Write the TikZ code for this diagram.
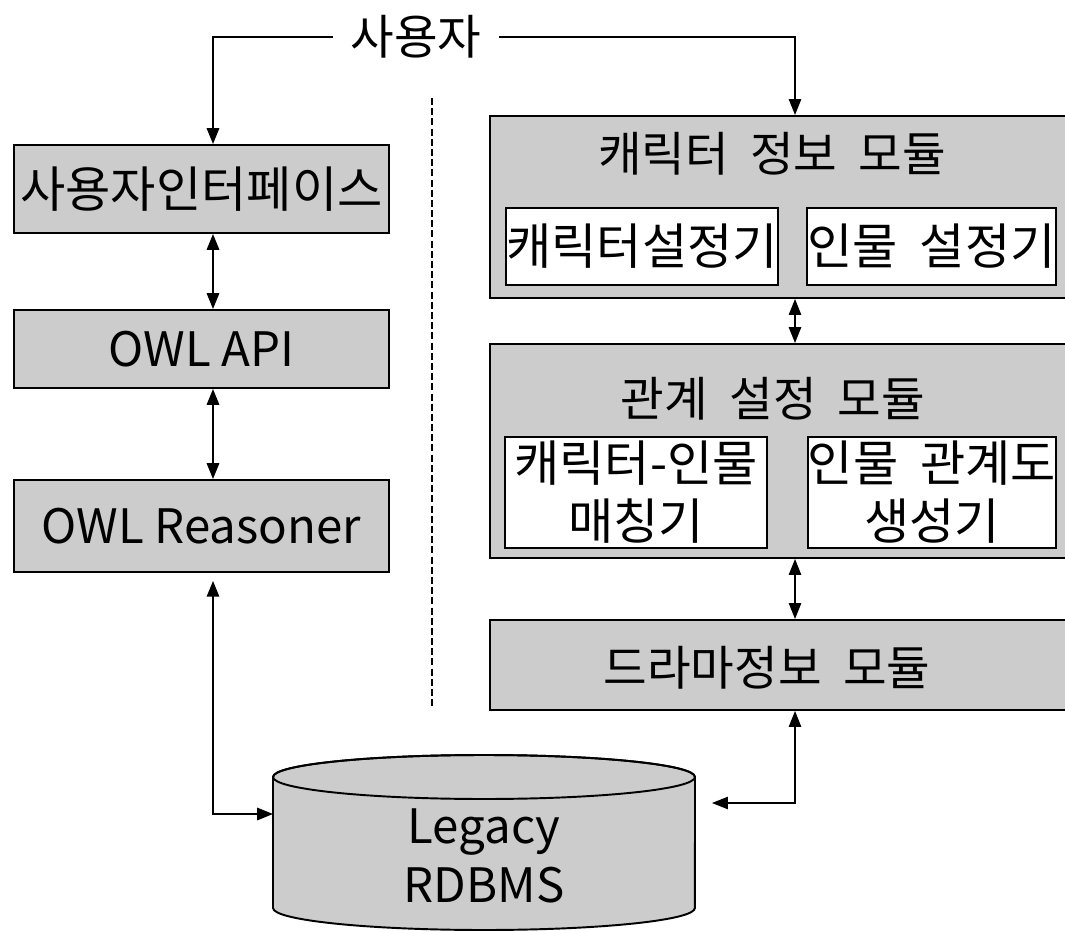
\documentclass[tikz,border=0pt]{standalone}
\usepackage{fontspec}
\setmainfont{Noto Sans CJK KR}[WordSpace=2]
\newfontfamily\latinfont{Noto Sans CJK KR}
\usetikzlibrary{arrows.meta}
\definecolor{boxgray}{gray}{0.8}
\begin{document}
\begin{tikzpicture}[x=0.02cm,y=-0.02cm,
  >={Triangle[length=9pt,width=7pt]},
  kfont/.style={font=\fontsize{27}{33}\selectfont},
  kbig/.style={font=\fontsize{28}{33}\selectfont},
  lfont/.style={font=\latinfont\fontsize{27}{33.5}\selectfont},
  gbox/.style={draw=black, line width=1.1pt, fill=boxgray, inner sep=0pt},
  wbox/.style={draw=black, line width=1.1pt, fill=white, inner sep=0pt},
  conL/.style={line width=1.2pt},
  conR/.style={line width=0.7pt},
  sep/.style={line width=0.6pt, dash pattern=on 4pt off 1.8pt},
  dbshape/.style={draw=black, line width=1.1pt, fill=boxgray},
]
\useasboundingbox (0,0) rectangle (1065,932);
\clip (0,0) rectangle (1065,932);

% top user label
\node[kfont, inner xsep=10pt, inner ysep=2pt] (user) at (416,37) {사용자};

% left column
\node[gbox, minimum width=7.5cm, minimum height=1.76cm, kbig] (ui) at (201.5,189) {사용자인터페이스};
\node[gbox, minimum width=7.5cm, minimum height=1.56cm, lfont] (api) at (201.5,349) {OWL API};
\node[gbox, minimum width=7.5cm, minimum height=1.84cm, lfont] (rsn) at (201.5,526) {OWL Reasoner};

% separator
\draw[sep] (432,98) -- (432,708);

% right column
\node[gbox, minimum width=11.7cm, minimum height=3.64cm] (r1) at (782.5,207) {};
\node[kfont] (r1t) at (772,154) {캐릭터 정보 모듈};
\node[wbox, minimum width=5.44cm, minimum height=1.54cm, kbig] (r1a) at (642,246.5) {캐릭터설정기};
\node[wbox, minimum width=4.94cm, minimum height=1.54cm, kbig] (r1b) at (931.5,246.5) {인물 설정기};

\node[gbox, minimum width=11.7cm, minimum height=4.28cm] (r2) at (782.5,451) {};
\node[kfont] (r2t) at (773,399) {관계 설정 모듈};
\node[wbox, minimum width=5.24cm, minimum height=2.22cm, kbig, align=center] (r2a) at (636,492.5) {캐릭터-인물\\매칭기};
\node[wbox, minimum width=4.96cm, minimum height=2.22cm, kbig, align=center] (r2b) at (932,492.5) {인물 관계도\\생성기};

\node[gbox, minimum width=11.7cm, minimum height=1.8cm] (r3) at (782.5,665) {};
\node[kfont] (r3t) at (767,668) {드라마정보 모듈};

% database cylinder
\path[dbshape] (273,777) -- (273,908)
  arc[start angle=180, end angle=360, x radius=4.22cm, y radius=0.44cm]
  -- (695,777)
  arc[start angle=0, end angle=180, x radius=4.22cm, y radius=0.44cm] -- cycle;
\draw[line width=1.1pt] (484,777) ellipse [x radius=4.22cm, y radius=0.44cm];
\node[lfont, align=center, inner sep=0pt] (db) at (484,856) {Legacy\\RDBMS};

% connector helpers
\coordinate (lx) at (213,0);
\coordinate (rx) at (795,0);
\coordinate (dbL) at (273,814);
\coordinate (dbR) at (712,803);

% connectors
\draw[conL,->] (user.west) -| (ui.north -| lx);
\draw[conR,->] (user.east) -| (r1.north -| rx);
\draw[conL,<->] (ui.south -| lx) -- (api.north -| lx);
\draw[conL,<->] (api.south -| lx) -- (rsn.north -| lx);
\draw[conL,<->,shorten <=4.5pt] (rsn.south -| lx) |- (dbL);
\draw[conR,<->] (r1.south -| rx) -- (r2.north -| rx);
\draw[conR,<->] (r2.south -| rx) -- (r3.north -| rx);
\draw[conR,<->] (r3.south -| rx) |- (dbR);
\end{tikzpicture}
\end{document}
